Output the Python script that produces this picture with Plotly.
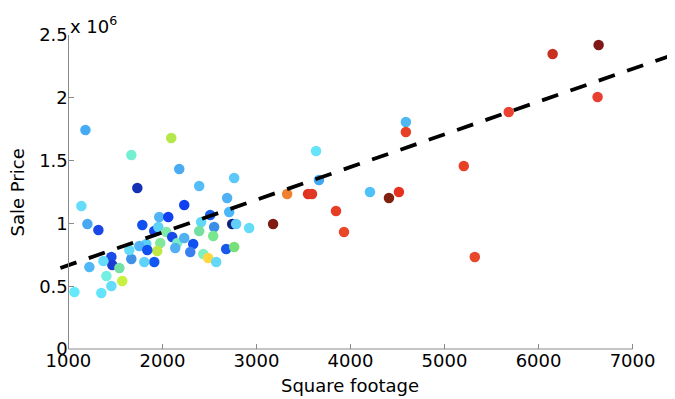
import plotly.graph_objects as go

# Square footage of each house
sqft = [1181, 2094, 1669, 2179, 1733, 2391, 2763, 1138, 2232, 2688,
        1202, 1319, 1786, 1966, 2062, 1913, 1956, 2041, 2104, 2157,
        1977, 1945, 1828, 1754, 1839, 1913, 1807, 1669, 1648, 1457,
        1467, 1372, 1223, 1542, 1404, 1573, 1457, 1350, 1064, 2508,
        2710, 2412, 2550, 2742, 2784, 2922, 3177, 2391, 2540, 2232,
        2136, 2327, 2296, 2434, 2487, 2572, 2678, 2763, 4589, 4589,
        3634, 3665, 3326, 3549, 3591, 4207, 4409, 4515, 5205, 3846,
        3931, 5322, 5683, 6150, 6639, 6628]

# Sale price of each house
price = [1.744e6, 1.680e6, 1.545e6, 1.433e6, 1.282e6, 1.298e6, 1.362e6, 1.139e6, 1.147e6, 1.202e6,
         0.995e6, 0.947e6, 0.987e6, 1.051e6, 1.051e6, 0.940e6, 0.971e6, 0.932e6, 0.892e6, 0.844e6,
         0.844e6, 0.780e6, 0.836e6, 0.820e6, 0.788e6, 0.693e6, 0.693e6, 0.717e6, 0.788e6, 0.733e6,
         0.669e6, 0.701e6, 0.653e6, 0.645e6, 0.581e6, 0.541e6, 0.502e6, 0.446e6, 0.454e6, 1.067e6,
         1.091e6, 1.011e6, 0.971e6, 0.995e6, 0.995e6, 0.963e6, 0.995e6, 0.940e6, 0.900e6, 0.884e6,
         0.804e6, 0.836e6, 0.772e6, 0.756e6, 0.725e6, 0.693e6, 0.796e6, 0.812e6, 1.807e6, 1.728e6,
         1.576e6, 1.346e6, 1.234e6, 1.234e6, 1.234e6, 1.250e6, 1.202e6, 1.250e6, 1.457e6, 1.099e6,
         0.932e6, 0.733e6, 1.887e6, 2.349e6, 2.420e6, 2.006e6]

# Colour of each point (jet colormap)
point_colors = ["#46aaf5", "#b4e84a", "#73f0d2", "#4aaaf2", "#1430b4", "#55bcf8", "#5ac8f8", "#64dcfa", "#1040f0", "#50b0f4",
                "#48a8f2", "#1a48e8", "#1050f0", "#50b4f6", "#1040f0", "#1848f0", "#5cd2f8", "#80e8a8", "#1848e8", "#78ecc8",
                "#80e898", "#c0e844", "#5ad0f8", "#50b4f6", "#1050f0", "#1058f0", "#60d4f8", "#4090e8", "#64dcf8", "#1a4ce8",
                "#1a3cd4", "#64dcfa", "#50b8f8", "#74e0a4", "#74f0e0", "#c8f040", "#64dcfa", "#64e4fa", "#64e8fa", "#1860f0",
                "#4ab8f8", "#60d8f8", "#3a90e8", "#102080", "#60d0f8", "#64dcf8", "#801a14", "#74e0a0", "#78e890", "#50b0f0",
                "#50b0f0", "#1050f0", "#3a80f0", "#80f0c0", "#ffd840", "#64d8f8", "#1858f0", "#78e078", "#50b8f0", "#e84028",
                "#64e4f8", "#40a8f0", "#f08030", "#e03020", "#e03824", "#50c0f8", "#802010", "#e83020", "#e84024", "#e83c24",
                "#e84828", "#e84828", "#ec4030", "#c83020", "#801818", "#e84030"]

# Fitted regression line endpoints
fit_x = [915, 7414]
fit_y = [0.645e6, 2.338e6]

x_ticks = [1000, 2000, 3000, 4000, 5000, 6000, 7000]
y_ticks = [0, 0.5e6, 1e6, 1.5e6, 2e6, 2.5e6]
y_tick_text = ["0", "0.5", "1", "1.5", "2", "2.5"]

X_RANGE = [900, 7430]
FONT = "DejaVu Sans, sans-serif"
FS = 18
AXIS_GRAY = "#8a8a8a"

fig = go.Figure()
fig.add_trace(go.Scatter(
    x=sqft, y=price, mode="markers",
    marker=dict(size=10.5, color=point_colors, line=dict(width=0)),
    cliponaxis=False, showlegend=False, hoverinfo="x+y"))
fig.add_trace(go.Scatter(
    x=fit_x, y=fit_y, mode="lines",
    line=dict(color="black", width=3.8, dash="17px,13px"),
    showlegend=False, hoverinfo="skip"))

ypos = (x_ticks[0] - X_RANGE[0]) / (X_RANGE[1] - X_RANGE[0])

# The page body has an 8px default margin, so the figure is sized to fit inside the window.
W, H = 667, 391
L, R, T, B = 50.6, 1.5, 27, 50
pw = W - L - R
ph = H - T - B

fig.update_layout(
    width=W, height=H,
    margin=dict(l=L, r=R, t=T, b=B, pad=0),
    paper_bgcolor="white", plot_bgcolor="white",
    font=dict(family=FONT, size=FS, color="black"),
    xaxis=dict(range=X_RANGE, tickvals=x_ticks, ticktext=[str(v) for v in x_ticks],
               showline=False, showgrid=False, zeroline=False,
               ticks="inside", ticklen=5, tickcolor=AXIS_GRAY, tickwidth=1,
               tickfont=dict(size=FS), automargin=False, ticklabelstandoff=-1),
    yaxis=dict(range=[0, 2.5e6], tickvals=y_ticks, ticktext=y_tick_text,
               anchor="free", position=ypos,
               showline=True, linecolor=AXIS_GRAY, linewidth=1,
               showgrid=False, zeroline=False,
               ticks="inside", ticklen=5, tickcolor=AXIS_GRAY, tickwidth=1,
               tickfont=dict(size=FS), automargin=False, ticklabelstandoff=-3),
    shapes=[dict(type="line", xref="x", yref="paper", x0=x_ticks[0], x1=x_ticks[-1],
                 y0=0, y1=0, line=dict(color=AXIS_GRAY, width=1), layer="above")],
    annotations=[
        dict(text="Square footage", xref="paper", yref="paper",
             x=(4000 - X_RANGE[0]) / (X_RANGE[1] - X_RANGE[0]),
             y=-36 / ph, xanchor="center", yanchor="middle", showarrow=False, font=dict(size=FS)),
        dict(text="Sale Price", xref="paper", yref="paper", x=(9 - L) / pw, y=0.5, textangle=-90,
             xanchor="center", yanchor="middle", showarrow=False, font=dict(size=FS)),
        dict(text="x 10<sup>6</sup>", xref="paper", yref="paper", x=ypos, y=1.0, yshift=-4,
             xanchor="left", yanchor="bottom", showarrow=False, font=dict(size=FS)),
    ],
)

fig.write_html("out.html")
